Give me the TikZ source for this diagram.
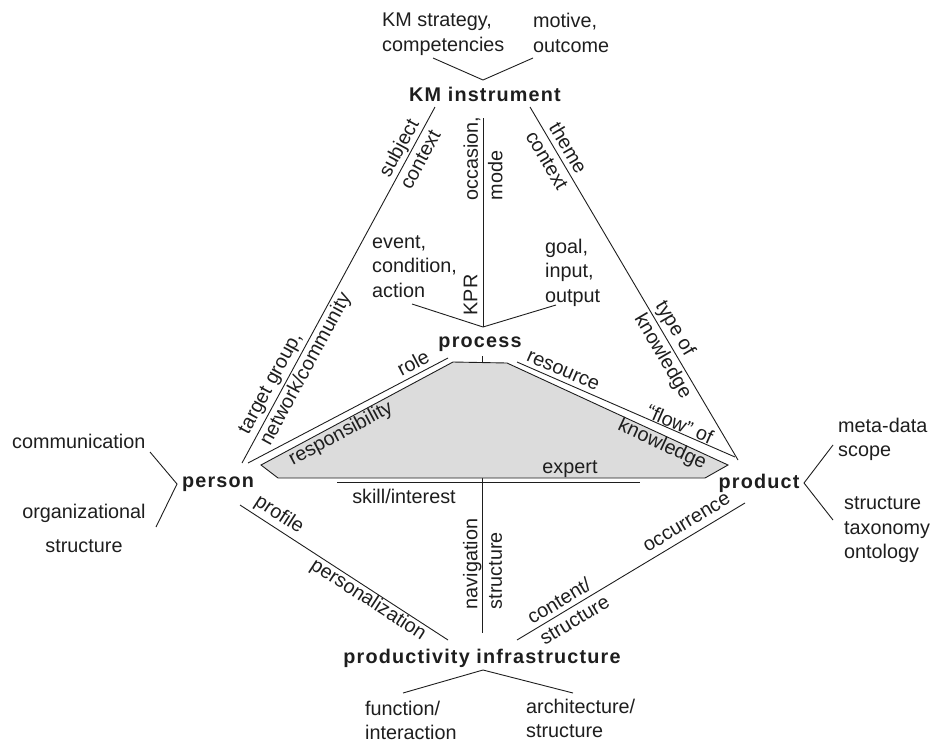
\documentclass[tikz,border=0pt]{standalone}
\usepackage{fontspec}
\setmainfont{Liberation Sans}
\newfontfamily\hubfont[LetterSpace=6]{Liberation Sans}
\definecolor{ink}{HTML}{1E1E1E}
\definecolor{plategray}{HTML}{DCDCDC}
\tikzset{
  txt/.style={font=\fontsize{19.8}{24.5}\selectfont, inner sep=0pt, text=ink},
  hub/.style={font=\hubfont\bfseries\fontsize{19.8}{24.5}\selectfont, inner sep=0pt, text=ink},
  link/.style={draw=ink, line width=0.9pt},
  plate/.style={draw=ink, line width=0.9pt, fill=plategray}
}
\begin{document}
\begin{tikzpicture}[x=1pt,y=-1pt]
\useasboundingbox (0,0) rectangle (932,742);

% ---- anchor points of the connectors ----
\coordinate (kmL) at (433,58);   \coordinate (kmTip) at (483,80);  \coordinate (kmR) at (533,58);
\coordinate (kmSW) at (435,107); \coordinate (personN) at (242,463);
\coordinate (kmSE) at (530,107); \coordinate (productN) at (738,460);
\coordinate (kmS) at (483,118);  \coordinate (procTip) at (483,327);
\coordinate (procL) at (412,304); \coordinate (procR) at (556,305);
\coordinate (procS) at (482,356); \coordinate (infraN) at (482,633);
\coordinate (roleA) at (248,463); \coordinate (roleB) at (448,358);
\coordinate (resA) at (517,362);  \coordinate (resB) at (735,457);
\coordinate (skA) at (337,482);   \coordinate (skB) at (640,482);
\coordinate (profA) at (240,505); \coordinate (profB) at (448,640);
\coordinate (contA) at (517,640); \coordinate (contB) at (745,503);
\coordinate (infL) at (403,693);  \coordinate (infTip) at (483,670); \coordinate (infR) at (573,693);
\coordinate (perU) at (150,452);  \coordinate (perTip) at (177,484); \coordinate (perD) at (156,527);
\coordinate (proU) at (833,445);  \coordinate (proTip) at (804,483); \coordinate (proD) at (833,520);

% ---- connectors ----
\draw[link] (kmL) -- (kmTip) -- (kmR);
\draw[link] (kmSW) -- (personN);
\draw[link] (kmSE) -- (productN);
\draw[link] (kmS) -- (procTip);
\draw[link] (procL) -- (procTip) -- (procR);
\draw[link] (procS) -- (infraN);
\draw[link] (roleA) -- (roleB);
\draw[link] (resA) -- (resB);
\draw[link] (skA) -- (skB);
\draw[link] (profA) -- (profB);
\draw[link] (contA) -- (contB);
\draw[link] (infL) -- (infTip) -- (infR);
\draw[link] (perU) -- (perTip) -- (perD);
\draw[link] (proU) -- (proTip) -- (proD);

% ---- shared knowledge plate ----
\draw[plate] (453,362) -- (507,363) -- (728,465) -- (705,478) -- (278,478) -- (261,465) -- cycle;

% ---- hub nodes ----
\node[hub, anchor=base] (km) at (485,101) {KM instrument};
\node[hub, anchor=base] (process) at (480,347) {process};
\node[hub, anchor=base] (person) at (218,487) {person};
\node[hub, anchor=base] (product) at (759,488) {product};
\node[hub, anchor=base] (infra) at (482,663) {productivity infrastructure};

% ---- outer annotations ----
\node[txt, anchor=north west, align=left] (strat) at (382,13) {KM strategy,\\competencies};
\node[txt, anchor=north west, align=left] (motive) at (533,13) {motive,\\outcome};
\node[txt, anchor=base west] (comm) at (12,448) {communication};
\node[txt, anchor=north, align=center] (orgs) at (84,503.5) {organizational\\[9.5pt]structure};
\node[txt, anchor=north west, align=left] (meta) at (838,417.5) {meta-data\\scope};
\node[txt, anchor=north west, align=left] (taxo) at (844,496.5) {structure\\taxonomy\\ontology};
\node[txt, anchor=north west, align=left] (func) at (365,700.5) {function/\\interaction};
\node[txt, anchor=north west, align=left] (arch) at (526,698.5) {architecture/\\structure};

% ---- process annotations ----
\node[txt, anchor=north west, align=left] (event) at (372,235) {event,\\condition,\\action};
\node[txt, anchor=north west, align=left] (goal) at (545,238.5) {goal,\\input,\\output};
\node[txt, rotate=90] (kpr) at (470.5,295) {KPR};
\node[txt, rotate=90, align=left] (occ) at (483,158.5) {occasion,\\mode};

% ---- edge labels ----
\node[txt, rotate=61.6, align=center] (subj) at (409,153.5) {subject\\context};
\node[txt, rotate=61.6, align=left] (target) at (296,364) {target group,\\network/community};
\node[txt, rotate=-59.5, align=center] (theme) at (558,154) {theme\\context};
\node[txt, rotate=-59.5, align=left] (type) at (673,350) {type of\\knowledge};
\node[txt, rotate=27.7] (role) at (413,363) {role};
\node[txt, rotate=28.2] (resp) at (341,434) {responsibility};
\node[txt, rotate=-23.5] (res) at (563,371) {resource};
\node[txt, rotate=-23.5] (flow) at (680,424) {“flow” of};
\node[txt, rotate=-24.8] (know) at (662,445) {knowledge};
\node[txt, anchor=base] (expert) at (570,473) {expert};
\node[txt, anchor=base] (skill) at (404,503) {skill/interest};
\node[txt, rotate=-33] (prof) at (279,515) {profile};
\node[txt, rotate=-33] (pers) at (368,600) {personalization};
\node[txt, rotate=90, align=left] (nav) at (482.5,564) {navigation\\structure};
\node[txt, rotate=31, align=left] (cont) at (568,609.5) {content/\\structure};
\node[txt, rotate=31] (occur) at (687,523) {occurrence};
\end{tikzpicture}
\end{document}
